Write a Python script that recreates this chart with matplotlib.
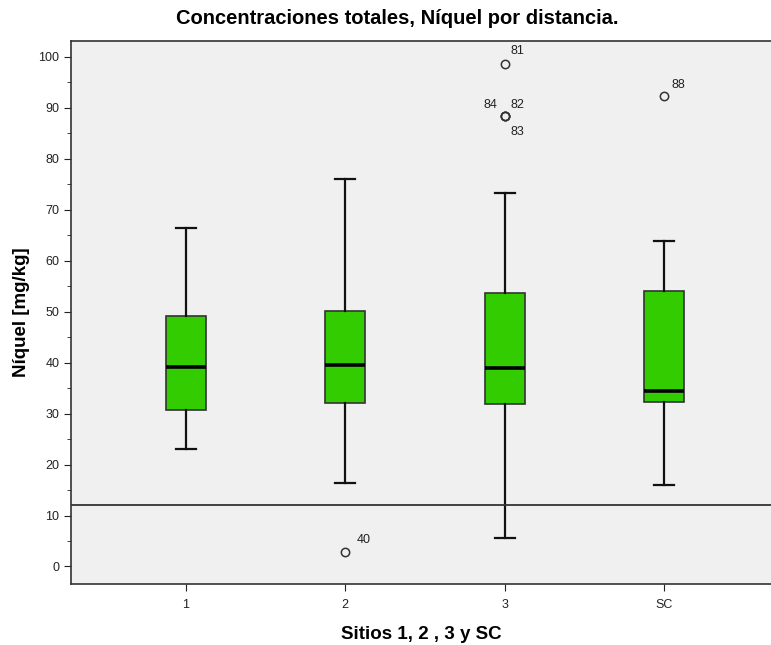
import matplotlib
matplotlib.use("Agg")
import matplotlib.pyplot as plt

plt.rcParams['font.family'] = ['Liberation Sans', 'DejaVu Sans']

# ----------------------------- DATA -----------------------------
sitios = ['1', '2', '3', 'SC']
whis_lo = [23.0, 16.4, 5.5, 15.9]
q1 = [30.7, 32.1, 31.8, 32.2]
mediana = [39.1, 39.6, 39.0, 34.4]
q3 = [49.2, 50.1, 53.6, 54.1]
whis_hi = [66.5, 76.1, 73.2, 63.8]

# atipicos: (sitio, valor, etiqueta)
out_sitio = [2, 3, 3, 3, 3, 4]
out_valor = [2.9, 98.6, 88.4, 88.4, 88.4, 92.3]
out_label = ['40', '81', '82', '83', '84', '88']

limite = 12.0

# ----------------------------- PLOT -----------------------------
fig = plt.figure(figsize=(7.71, 6.45), dpi=100)
ax = fig.add_axes([71/771, (645-583.5)/645, 700/771, (583.5-41)/645])
ax.set_facecolor('#f0f0f0')

stats = []
for i in range(len(sitios)):
	stats.append(dict(med=mediana[i], q1=q1[i], q3=q3[i],
		whislo=whis_lo[i], whishi=whis_hi[i], fliers=[], label=sitios[i]))

ax.bxp(stats, positions=[1, 2, 3, 4], widths=0.25, patch_artist=True,
	showfliers=False,
	boxprops=dict(facecolor='#33cc00', edgecolor='#333333', linewidth=1.2),
	medianprops=dict(color='black', linewidth=2.6),
	whiskerprops=dict(color='#111111', linewidth=1.6),
	capprops=dict(color='#111111', linewidth=1.6),
	capwidths=0.125)

ax.plot(out_sitio, out_valor, 'o', mfc='none', mec='#333333', ms=6, mew=1.1)

# etiquetas de atipicos (desplazamiento en puntos)
offs = {'40': (8, 6), '81': (4, 7), '82': (4, 6), '83': (4, -14), '84': (-15, 6), '88': (5, 6)}
for s, v, lab in zip(out_sitio, out_valor, out_label):
	ax.annotate(lab, (s, v), xytext=offs[lab], textcoords='offset points', fontsize=9, color='#222222')

ax.axhline(limite, color='#333333', linewidth=1.3)

ax.set_xlim(0.28, 4.67)
ax.set_ylim(-3.34, 103.1)
ax.set_yticks(range(0, 101, 10))
ax.set_yticks(range(5, 101, 10), minor=True)
ax.set_xticks([1, 2, 3, 4])
ax.set_xticklabels(sitios)
ax.tick_params(axis='both', which='major', direction='out', length=5, labelsize=9, colors='#222222')
ax.tick_params(axis='x', which='major', pad=6)
ax.tick_params(axis='y', which='minor', direction='out', length=3, color='#222222')

for sp in ['left', 'bottom', 'top']:
	ax.spines[sp].set_color('#333333')
	ax.spines[sp].set_linewidth(1.2)
ax.spines['right'].set_visible(False)

ax.set_ylabel('Níquel [mg/kg]', fontsize=13.5, fontweight='bold', labelpad=6)
ax.set_xlabel('Sitios 1, 2 , 3 y SC', fontsize=13.5, fontweight='bold', labelpad=11)
fig.text(397/771, 1 - 18/645, 'Concentraciones totales, Níquel por distancia.',
	ha='center', va='center', fontsize=14.5, fontweight='bold')

fig.savefig('out.png', dpi=100)
